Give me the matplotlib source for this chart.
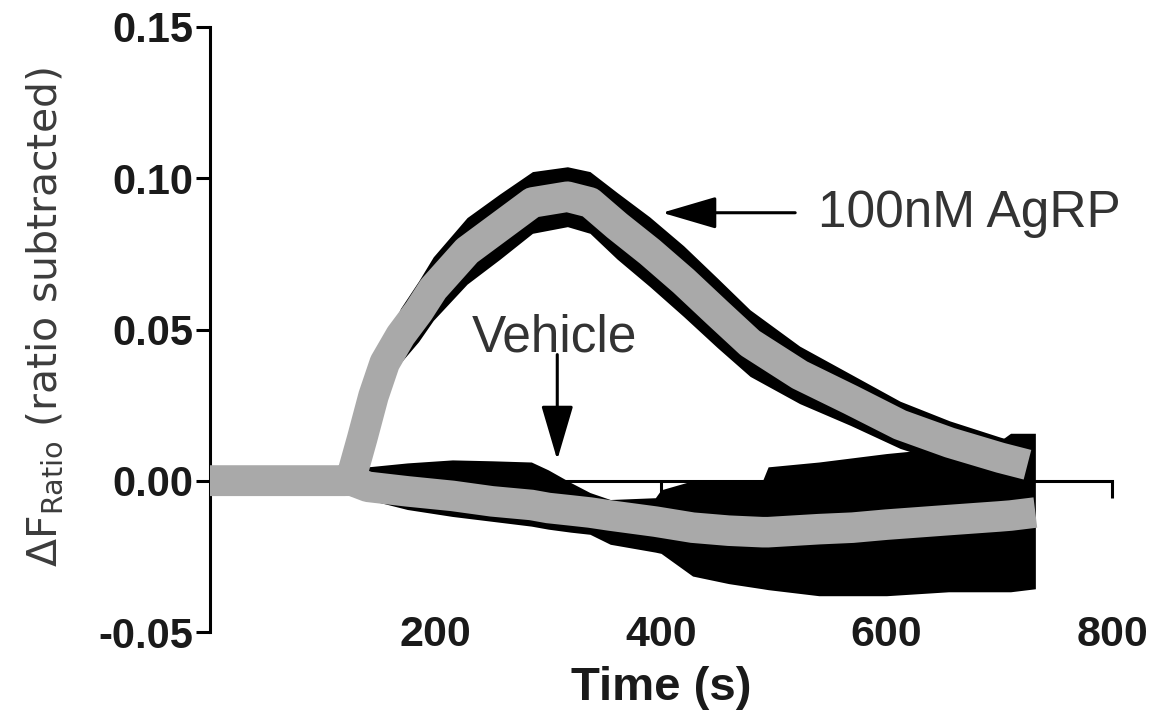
import matplotlib
matplotlib.use('Agg')
import matplotlib.pyplot as plt
import numpy as np

plt.rcParams['font.family'] = ['Liberation Sans', 'DejaVu Sans']

# 100 nM AgRP: mean and SEM
t_agrp = [0, 30, 60, 90, 120, 126, 135, 145, 155, 169, 185, 198, 228, 257, 286,
          317, 337, 361, 390, 420, 450, 479, 523, 568, 612, 656, 701, 725]
agrp_mean = [0, 0, 0, 0, 0, 0.002, 0.014, 0.028, 0.039, 0.048, 0.056, 0.0635,
             0.076, 0.084, 0.092, 0.0939, 0.092, 0.0843, 0.0757, 0.066, 0.0555,
             0.0455, 0.035, 0.0268, 0.0185, 0.0126, 0.0076, 0.0053]
agrp_sem = [0, 0, 0, 0, 0, 0, 0, 0.002, 0.006, 0.009, 0.010, 0.0105, 0.011,
            0.0108, 0.0102, 0.0099, 0.0102, 0.011, 0.0115, 0.0117, 0.0115,
            0.011, 0.0095, 0.0085, 0.0078, 0.0072, 0.0068, 0.0066]

# vehicle: mean plus the (lopsided) black band edges
t_veh = [0, 30, 60, 90, 120, 126, 140, 175, 215, 250, 285, 300, 320, 337, 355,
         395, 400, 428, 460, 490, 495, 540, 570, 600, 655, 700, 710, 732]
veh_mean = [0, 0, 0, 0, 0, 0, -0.002, -0.0035, -0.005, -0.0068, -0.008, -0.009,
            -0.0098, -0.0105, -0.0115, -0.0135, -0.0138, -0.0155, -0.0165, -0.017,
            -0.017, -0.016, -0.0155, -0.0145, -0.013, -0.0118, -0.0115, -0.0105]
veh_hi = [0, 0, 0, 0, 0, 0, 0.0046, 0.0059, 0.0069, 0.0066, 0.0062, 0.0036,
          -0.0006, -0.0039, -0.0062, -0.0056, -0.003, 0.0, 0.0, 0.0, 0.0046,
          0.0062, 0.0076, 0.009, 0.011, 0.013, 0.0157, 0.0157]
veh_lo = [0, 0, 0, 0, 0, 0, -0.0062, -0.0095, -0.0118, -0.0134, -0.015, -0.016,
          -0.017, -0.0177, -0.021, -0.0236, -0.024, -0.0315, -0.034, -0.0357,
          -0.036, -0.038, -0.038, -0.038, -0.0367, -0.0367, -0.0367, -0.0357]

x_ticks = [200, 400, 600, 800]
x_labels = ['200', '400', '600', '800']
y_ticks = [-0.05, 0.0, 0.05, 0.10, 0.15]
y_labels = ['-0.05', '0.00', '0.05', '0.10', '0.15']

gray = '#a9a9a9'
txt = '#333333'

fig = plt.figure(figsize=(11.62, 7.2), dpi=100)
ax = fig.add_axes([0.1807, 0.1222, 0.7763, 0.8403])

m = np.array(agrp_mean)
s = np.array(agrp_sem)
ax.fill_between(t_agrp, m - s, m + s, color='black', lw=0, zorder=3)
ax.fill_between(t_veh, veh_lo, veh_hi, color='black', lw=0, zorder=3)
ax.plot(t_veh, veh_mean, color=gray, lw=22, solid_capstyle='butt',
        solid_joinstyle='round', zorder=4)
ax.plot(t_agrp, agrp_mean, color=gray, lw=22, solid_capstyle='butt',
        solid_joinstyle='round', zorder=5)

ax.set_xlim(0, 800)
ax.set_ylim(-0.05, 0.15)

for side in ['top', 'right']:
    ax.spines[side].set_visible(False)
ax.spines['left'].set_linewidth(2.2)
ax.spines['left'].set_bounds(-0.05, 0.15)
ax.spines['bottom'].set_position(('data', 0))
ax.spines['bottom'].set_linewidth(2.2)
ax.spines['bottom'].set_bounds(0, 800)

ax.set_yticks(y_ticks)
ax.set_yticklabels(y_labels, fontweight='bold', fontsize=30, color='#1a1a1a')
ax.tick_params(axis='y', direction='out', length=10, width=2.2, pad=2)
ax.set_xticks(x_ticks)
ax.tick_params(axis='x', direction='out', length=12, width=2.2, labelbottom=False)

# tick labels sit at the bottom edge, not on the zero line
sec = ax.secondary_xaxis(0.028)
sec.set_xticks(x_ticks)
sec.set_xticklabels(x_labels, fontweight='bold', fontsize=31, color='#1a1a1a')
sec.tick_params(length=0, pad=0)
for sp in sec.spines.values():
    sp.set_visible(False)
sec.set_xlabel('Time (s)', fontweight='bold', fontsize=34, color='#1a1a1a', labelpad=8)

ax.set_ylabel(r'$\Delta\mathrm{F}_{\mathrm{Ratio}}$ (ratio subtracted)',
              family='DejaVu Sans', fontsize=29.5, color='#3c3c3c', va='center')
ax.yaxis.set_label_coords(-0.183, 0.52)

head = dict(arrowstyle='-|>,head_length=3.4,head_width=1.0', mutation_scale=10,
            lw=2.2, color='black', shrinkA=0, shrinkB=0)
ax.annotate('', xy=(401, 0.0886), xytext=(519, 0.0886), arrowprops=head, zorder=6)
ax.text(539, 0.084, '100nM AgRP', fontsize=37, color=txt, va='baseline', ha='left')
ax.annotate('', xy=(308, 0.0069), xytext=(308, 0.0417), arrowprops=head, zorder=6)
ax.text(232, 0.0426, 'Vehicle', fontsize=37, color=txt, va='baseline', ha='left')

fig.savefig('out.png', dpi=100, facecolor='white')
